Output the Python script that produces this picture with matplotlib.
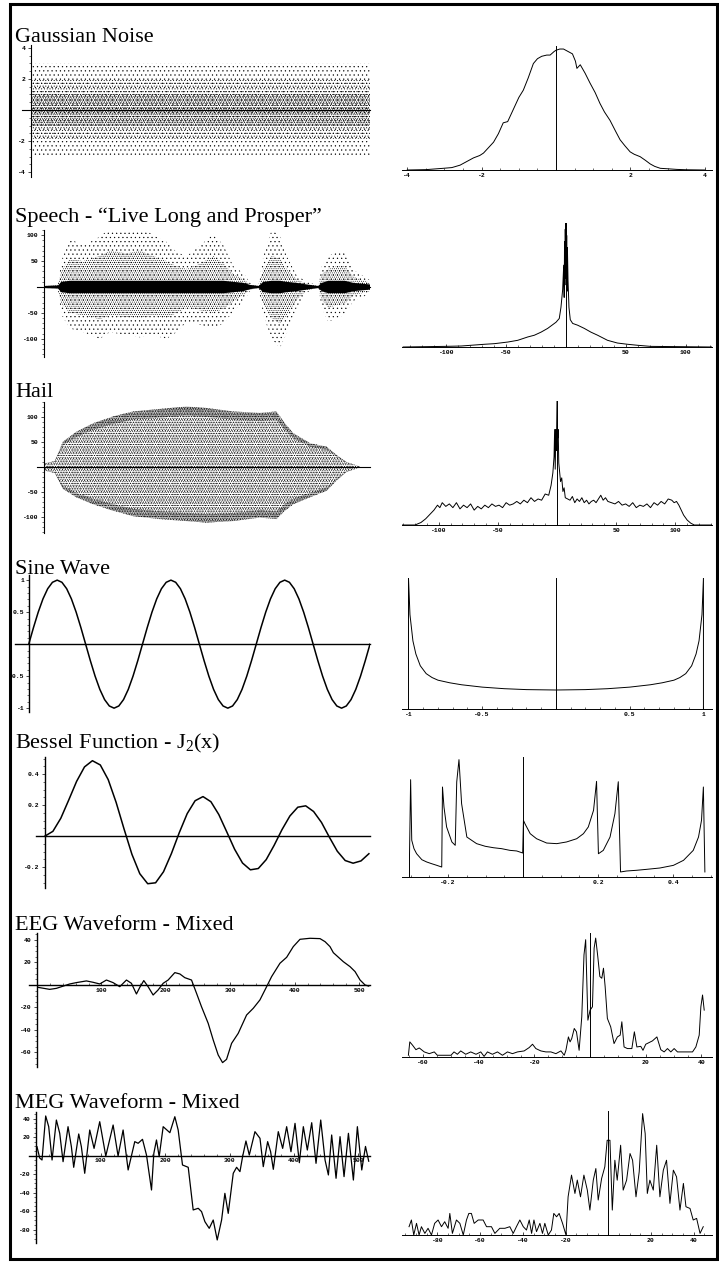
import matplotlib.pyplot as plt
from matplotlib.patches import Rectangle
from matplotlib.ticker import MultipleLocator

# ---------------- data ----------------
titles = ["Gaussian Noise", "Speech - \u201cLive Long and Prosper\u201d", "Hail",
          "Sine Wave", "Bessel Function - J$_2$(x)", "EEG Waveform - Mixed",
          "MEG Waveform - Mixed"]

# Gaussian noise: extent of the point cloud (outer, medium and dense bands)
noise_x = [0, 1000]
noise_outer_hi = [3.0, 3.0]
noise_outer_lo = [-2.9, -2.9]
noise_mid_hi = [2.0, 2.0]
noise_mid_lo = [-1.9, -1.9]
noise_core_hi = [1.1, 1.1]
noise_core_lo = [-1.0, -1.0]

# speech: envelopes of the sample cloud
speech_x = [0, 43, 53, 79, 120, 171, 202, 253, 294, 335, 376, 407, 438, 479, 520, 551,
            581, 612, 633, 658, 673, 698, 724, 744, 775, 806, 841, 852, 872, 898, 923,
            949, 1000]
speech_hi = [3, 5, 50, 93, 80, 97, 113, 110, 117, 100, 87, 67, 60, 80, 103, 80,
             40, 27, 7, 3, 60, 110, 100, 60, 23, 10, 3, 40, 60, 67, 70, 33, 13]
speech_lo = [-3, -5, -53, -80, -87, -100, -87, -93, -97, -93, -100, -87, -67, -73, -80, -70,
             -47, -27, -7, -3, -55, -100, -117, -90, -40, -10, -3, -40, -67, -60, -53, -27, -13]
speech_dense_hi = [2, 4, 30, 55, 50, 60, 70, 65, 70, 60, 50, 40, 35, 45, 60, 45,
                   25, 15, 5, 2, 35, 60, 55, 35, 15, 6, 2, 25, 35, 40, 40, 20, 8]
speech_dense_lo = [-2, -4, -32, -50, -55, -62, -55, -58, -60, -55, -60, -50, -40, -45, -50, -42,
                   -28, -15, -5, -2, -32, -60, -70, -55, -25, -6, -2, -25, -40, -35, -32, -16, -8]
speech_core = [2, 3, 10, 12, 12, 12, 12, 12, 12, 12, 12, 12, 12, 12, 12, 12,
               10, 8, 4, 2, 10, 12, 12, 10, 8, 5, 2, 8, 12, 12, 12, 8, 5]

# hail: envelope of the sample cloud
hail_x = [0, 33, 58, 99, 150, 212, 273, 355, 437, 498, 580, 662, 713, 739, 765, 816,
          867, 898, 928, 969]
hail_hi = [7, 12, 51, 71, 88, 102, 112, 117, 122, 119, 112, 109, 112, 88, 68, 48,
           41, 24, 10, 1]
hail_lo = [-7, -12, -44, -61, -75, -88, -99, -105, -109, -112, -109, -102, -105, -88, -75, -61,
           -48, -27, -10, -1]

# sine wave, 24 samples per period, three periods
sine_period = [0.0, 0.259, 0.5, 0.707, 0.866, 0.966, 1.0, 0.966, 0.866, 0.707, 0.5, 0.259,
               0.0, -0.259, -0.5, -0.707, -0.866, -0.966, -1.0, -0.966, -0.866, -0.707, -0.5, -0.259]
sine_y = sine_period * 3 + [0.0]

# Bessel J2 sampled every 0.5
bessel_x = [i * 0.5 for i in range(42)]
bessel_y = [0.0, 0.0306, 0.1149, 0.2321, 0.3528, 0.4461, 0.4861, 0.4586, 0.3641, 0.2178,
            0.0466, -0.1173, -0.2429, -0.3074, -0.3014, -0.2303, -0.1130, 0.0223, 0.1448, 0.2279,
            0.2546, 0.2216, 0.1390, 0.0279, -0.0849, -0.1738, -0.2177, -0.2093, -0.1520, -0.0602,
            0.0416, 0.1296, 0.1862, 0.1950, 0.1584, 0.0878, -0.0075, -0.0977, -0.1578, -0.1750,
            -0.1603, -0.1138]

eeg_x = [1.6, 19.7, 30.1, 50.8, 61.1, 76.7, 87.0, 97.4, 107.8, 118.1, 128.5, 138.9, 146.6,
         154.4, 159.6, 165.8, 172.5, 180.3, 188.1, 195.9, 203.6, 214.0, 221.8, 229.5, 239.9,
         247.7, 255.4, 265.8, 273.6, 281.3, 288.1, 294.3, 302.1, 312.4, 325.4, 335.8, 346.1,
         356.5, 364.2, 377.2, 387.6, 397.9, 408.3, 423.8, 439.4, 447.2, 454.9, 460.1, 475.6,
         486.0, 493.8, 501.6, 509.3, 515.0]
eeg_y = [-2.1, -3.9, -3.0, 0.9, 2.1, 3.6, 2.4, 0.9, 4.4, 2.1, -1.5, 4.4, 1.5,
         -8.0, -2.1, 3.9, -1.5, -8.9, -4.4, 1.5, 4.4, 11.0, 9.8, 6.5, 4.4,
         -7.4, -19.3, -34.1, -48.9, -62.2, -69.0, -66.1, -51.9, -43.0, -26.7, -20.7, -13.3,
         -1.5, 7.4, 19.3, 24.6, 34.1, 40.6, 41.5, 41.2, 38.5, 34.1, 28.7, 20.7,
         16.3, 11.9, 4.4, 0.0, -1.0]

meg_x = [1.0, 5.2, 8.8, 14.5, 19.2, 24.4, 31.1, 36.3, 41.5, 49.2, 54.4, 58.0, 65.8, 69.9,
         75.1, 82.9, 89.6, 98.4, 107.8, 119.2, 126.9, 134.7, 142.5, 152.8, 158.0, 164.8,
         171.0, 178.8, 182.4, 186.5, 190.7, 196.9, 207.3, 215.0, 220.2, 226.9, 235.8, 243.5,
         251.3, 256.5, 261.7, 268.4, 274.6, 280.8, 287.6, 292.7, 297.9, 305.7, 310.9, 316.1,
         320.2, 325.4, 330.6, 339.4, 347.2, 352.3, 359.1, 363.7, 367.9, 375.6, 382.4, 388.6,
         395.3, 401.6, 408.3, 414.5, 420.7, 427.5, 434.2, 441.5, 448.2, 453.4, 458.5, 465.3,
         471.5, 477.7, 484.5, 492.2, 498.4, 505.2, 511.0, 516.0]
meg_y = [9.7, -2.5, -4.7, 43.0, 31.4, -4.7, 38.6, 24.2, -6.5, 31.4, 9.7, -12.6, 23.5, 9.7,
         -19.1, 27.8, 7.9, 36.8, -0.4, 33.2, -0.4, 27.8, -15.5, 15.2, 13.4, 17.7,
         0.7, -37.2, 2.5, 17.0, -1.1, 31.4, 24.9, 42.2, 27.8, -10.1, -12.6, -58.8,
         -57.0, -60.6, -71.5, -78.7, -69.7, -91.3, -69.7, -40.8, -62.5, -19.1, -12.6, -17.3,
         -1.1, 15.9, 0.7, 26.0, 18.8, -11.9, 15.2, 4.3, -14.8, 26.0, 7.9, 31.4,
         4.3, 35.0, -7.6, 31.4, 6.1, 35.7, -8.3, 38.6, -4.7, -20.9, 22.4, -24.5,
         20.6, -22.7, 24.2, -26.4, 31.4, -15.5, 10.0, -6.0]

# histograms (right column), heights relative to the tallest bin
noise_hist_x = [-4.0, -3.5, -3.03, -2.8, -2.58, -2.4, -2.22, -2.05, -1.95, -1.8, -1.68, -1.55,
                -1.42, -1.3, -1.15, -1.0, -0.88, -0.75, -0.61, -0.5, -0.385, -0.25, -0.16, -0.05,
                0.0, 0.1, 0.2, 0.32, 0.44, 0.52, 0.56, 0.65, 0.78, 0.91, 1.05, 1.18, 1.3, 1.45,
                1.6, 1.72, 1.85, 1.99, 2.1, 2.26, 2.4, 2.53, 2.65, 2.8, 3.0, 3.24, 3.5, 4.0]
noise_hist_y = [0.0, 0.003, 0.014, 0.02, 0.04, 0.07, 0.1, 0.12, 0.14, 0.19, 0.23, 0.3,
                0.39, 0.4, 0.5, 0.6, 0.66, 0.76, 0.88, 0.92, 0.94, 0.95, 0.95, 0.98,
                0.99, 1.0, 1.0, 0.98, 0.96, 0.9, 0.84, 0.87, 0.8, 0.72, 0.64, 0.55, 0.48, 0.41,
                0.32, 0.25, 0.2, 0.15, 0.13, 0.11, 0.08, 0.05, 0.03, 0.014, 0.01, 0.005, 0.002, 0.0]

speech_hist_x = [-136, -101.4, -87.5, -76.4, -68, -59.7, -48.6, -40.3, -31.9, -26.4, -20.8,
                 -15.3, -11.1, -8.3, -5.6, -4.2, -2.8, -1.9, -1.5, -1.2, -0.9, -0.6, -0.3, 0.0,
                 0.3, 0.6, 0.9, 1.2, 1.7, 2.5, 3.6, 5.6, 9.7, 15.3, 20.8, 26.4, 34.7, 43, 51.4,
                 59.7, 70.8, 93, 122]
speech_hist_y = [0.0, 0.005, 0.008, 0.016, 0.022, 0.027, 0.04, 0.054, 0.081, 0.095, 0.12,
                 0.15, 0.18, 0.2, 0.23, 0.32, 0.46, 0.66, 0.4, 0.85, 0.5, 0.95, 0.6, 1.0,
                 0.55, 0.9, 0.45, 0.8, 0.54, 0.32, 0.22, 0.19, 0.176, 0.15, 0.12, 0.095, 0.054,
                 0.032, 0.022, 0.014, 0.005, 0.003, 0.0]

hail_hist_x = [-131, -120, -115, -111, -107, -104, -101, -99, -97, -94, -91, -88, -85, -82, -79,
               -76, -73, -70, -67, -64, -61, -58, -55, -52, -49, -46, -43, -40, -37, -34, -31,
               -28, -25, -22, -19, -16, -13, -10, -7, -5, -3.5, -2.5, -2, -1.5, -1, -0.5, 0,
               0.5, 1, 1.5, 2, 3, 4, 5, 6, 7, 9, 11, 13, 15, 17, 19, 21, 23, 25, 27, 29, 31,
               33, 35, 37, 39, 41, 43, 46, 49, 52, 55, 58, 61, 64, 67, 70, 73, 76, 79, 82, 85,
               88, 91, 94, 97, 99, 101, 103, 105, 107, 110, 113, 116, 131]
hail_hist_y = [0.0, 0.0, 0.02, 0.05, 0.09, 0.12, 0.16, 0.14, 0.18, 0.15, 0.17, 0.14, 0.18, 0.13,
               0.16, 0.14, 0.17, 0.12, 0.15, 0.13, 0.16, 0.14, 0.17, 0.15, 0.16, 0.14, 0.18,
               0.16, 0.17, 0.19, 0.17, 0.2, 0.18, 0.22, 0.19, 0.21, 0.2, 0.25, 0.24, 0.32, 0.42,
               0.55, 0.77, 0.45, 0.77, 0.6, 1.0, 0.7, 0.77, 0.5, 0.45, 0.35, 0.38, 0.27, 0.3,
               0.22, 0.21, 0.2, 0.23, 0.18, 0.21, 0.19, 0.22, 0.18, 0.2, 0.17, 0.19, 0.2, 0.18,
               0.21, 0.24, 0.2, 0.22, 0.19, 0.18, 0.17, 0.19, 0.16, 0.17, 0.15, 0.18, 0.14,
               0.16, 0.15, 0.17, 0.14, 0.18, 0.16, 0.19, 0.17, 0.21, 0.2, 0.18, 0.19, 0.16,
               0.12, 0.08, 0.04, 0.015, 0.0, 0.0]

sine_hist_x = [-1.0, -1.0, -0.99, -0.97, -0.95, -0.92, -0.88, -0.84, -0.8, -0.72, -0.64, -0.5,
               -0.35, -0.2, 0.0, 0.2, 0.35, 0.5, 0.64, 0.72, 0.8, 0.84, 0.88, 0.92, 0.95, 0.97,
               0.99, 1.0, 1.0]
sine_hist_y = [0.0, 1.0, 0.72, 0.52, 0.42, 0.33, 0.27, 0.24, 0.22, 0.2, 0.185, 0.167,
               0.155, 0.148, 0.145, 0.148, 0.155, 0.167, 0.185, 0.2, 0.22, 0.24, 0.27, 0.33,
               0.42, 0.52, 0.72, 1.0, 0.0]

bessel_hist_x = [-0.303, -0.303, -0.300, -0.297, -0.291, -0.284, -0.270, -0.257, -0.244, -0.230,
                 -0.217, -0.215, -0.211, -0.204, -0.190, -0.181, -0.177, -0.171, -0.164, -0.150,
                 -0.124, -0.101, -0.079, -0.057, -0.035, -0.017, -0.001, 0.001, 0.005, 0.019,
                 0.036, 0.063, 0.090, 0.116, 0.143, 0.161, 0.174, 0.188, 0.196, 0.201, 0.214,
                 0.232, 0.245, 0.254, 0.260, 0.276, 0.303, 0.330, 0.365, 0.401, 0.428, 0.454,
                 0.468, 0.476, 0.481, 0.485]
bessel_hist_y = [0.0, 0.181, 0.811, 0.306, 0.236, 0.194, 0.144, 0.125, 0.111, 0.097,
                 0.083, 0.75, 0.583, 0.417, 0.292, 0.264, 0.792, 0.978, 0.611, 0.333,
                 0.278, 0.256, 0.244, 0.236, 0.222, 0.217, 0.2, 0.472, 0.444, 0.361,
                 0.319, 0.283, 0.278, 0.292, 0.319, 0.361, 0.417, 0.556, 0.797, 0.194, 0.222,
                 0.333, 0.528, 0.794, 0.042, 0.05, 0.056, 0.064, 0.075, 0.097, 0.139, 0.222,
                 0.333, 0.472, 0.75, 0.042]

eeg_hist_x = [-65.3, -64.8, -63.8, -62.6, -61.4, -59.6, -57.8, -56.0, -54.9, -53.0, -50.0, -48.9,
              -47.7, -46.5, -44.7, -42.9, -41.0, -39.3, -38.1, -36.9, -35.1, -33.3, -31.5, -29.7,
              -27.9, -26.1, -23.7, -21.9, -20.7, -19.5, -17.7, -15.9, -14.1, -12.3, -10.5, -9.3,
              -8.7, -7.8, -7.2, -6.6, -5.7, -4.9, -3.95, -3.0, -2.2, -1.6, -0.8, 0.0, 0.84, 1.44,
              2.0, 2.75, 3.5, 4.2, 4.8, 5.4, 6.2, 7.4, 8.6, 9.8, 10.8, 11.4, 12.2, 13.4, 15.0,
              15.9, 16.8, 18.2, 19.0, 20.0, 22.4, 24.0, 25.4, 26.6, 27.8, 29.0, 30.2, 31.4, 36.8,
              38.0, 39.2, 39.8, 40.4, 41.0]
eeg_hist_y = [0.014, 0.122, 0.095, 0.059, 0.073, 0.041, 0.027, 0.041, 0.014, 0.014, 0.014, 0.041,
              0.022, 0.049, 0.022, 0.041, 0.022, 0.041, 0.005, 0.041, 0.022, 0.041, 0.014, 0.041,
              0.027, 0.041, 0.049, 0.076, 0.103, 0.068, 0.049, 0.041, 0.041, 0.027, 0.049, 0.014,
              0.054, 0.162, 0.122, 0.149, 0.230, 0.203, 0.054, 0.324, 0.824, 0.946, 0.297, 0.378,
              0.405, 0.878, 0.959, 0.811, 0.649, 0.635, 0.716, 0.568, 0.311, 0.243, 0.108, 0.162,
              0.176, 0.284, 0.081, 0.068, 0.068, 0.203, 0.081, 0.086, 0.054, 0.103, 0.130, 0.162,
              0.059, 0.041, 0.068, 0.041, 0.068, 0.041, 0.041, 0.081, 0.176, 0.405, 0.500, 0.378]

meg_hist_x = [-93.3, -92.2, -91.1, -89.8, -88.6, -87.5, -85.9, -84.4, -82.8, -81.3, -79.7, -78.1,
              -76.6, -75.0, -74.2, -73.0, -71.1, -69.5, -67.9, -66.4, -65.3, -64.1, -62.8, -60.9,
              -58.6, -57.0, -54.7, -53.1, -50.8, -48.4, -46.1, -44.5, -43.0, -41.4, -39.8, -38.3,
              -37.0, -35.9, -34.8, -33.6, -32.0, -30.8, -29.7, -28.1, -26.6, -25.5, -24.2, -23.0,
              -21.4, -19.8, -18.8, -17.2, -15.6, -14.5, -13.0, -11.4, -9.8, -8.6, -7.0, -5.8,
              -4.7, -3.1, -1.6, -0.5, 0.8, 1.9, 3.1, 4.2, 5.8, 7.0, 8.6, 10.2, 11.4, 13.0, 14.5,
              16.1, 17.3, 18.3, 19.5, 21.1, 22.7, 24.2, 25.8, 27.3, 28.9, 30.5, 32.0, 33.6, 35.2,
              36.4, 38.3, 39.8, 41.4, 43.0, 44.5]
meg_hist_y = [0.067, 0.121, 0.0, 0.094, 0.0, 0.067, 0.013, 0.054, 0.0, 0.094, 0.121, 0.067,
              0.107, 0.054, 0.174, 0.013, 0.121, 0.094, 0.0, 0.121, 0.174, 0.174, 0.094, 0.121,
              0.121, 0.067, 0.067, 0.013, 0.054, 0.054, 0.067, 0.013, 0.067, 0.121, 0.067, 0.040,
              0.121, 0.013, 0.121, 0.027, 0.094, 0.013, 0.094, 0.0, 0.040, 0.174, 0.147, 0.174,
              0.094, 0.0, 0.308, 0.483, 0.335, 0.443, 0.308, 0.483, 0.362, 0.201, 0.443, 0.536,
              0.282, 0.456, 0.550, 0.764, 0.764, 0.201, 0.603, 0.442, 0.724, 0.362, 0.442, 0.657,
              0.603, 0.308, 0.509, 0.979, 0.818, 0.335, 0.442, 0.362, 0.724, 0.308, 0.523, 0.603,
              0.255, 0.523, 0.469, 0.201, 0.416, 0.228, 0.214, 0.121, 0.134, 0.013, 0.067]

# ---------------- figure ----------------
W, H = 719, 1263
plt.rcParams['hatch.color'] = 'black'
plt.rcParams['hatch.linewidth'] = 0.35
plt.rcParams['mathtext.fontset'] = 'custom'
plt.rcParams['mathtext.rm'] = 'Liberation Serif'
plt.rcParams['mathtext.it'] = 'Liberation Serif:italic'

fig = plt.figure(figsize=(W / 100, H / 100), dpi=100)
tick_font = {'family': 'Liberation Mono', 'weight': 'bold', 'size': 4.6}


def box(left, top, right, bottom):
    return fig.add_axes([left / W, 1 - bottom / H, (right - left) / W, (bottom - top) / H])


def style(ax, xlim, ylim, xticks=(), yticks=(), xminor=None, yminor=None, axis_lw=0.8):
    ax.set_xlim(xlim)
    ax.set_ylim(ylim)
    ax.patch.set_alpha(0)
    for s in ('top', 'right'):
        ax.spines[s].set_visible(False)
    ax.spines['left'].set_position(('data', 0))
    ax.spines['bottom'].set_position(('data', 0))
    ax.spines['left'].set_linewidth(axis_lw)
    ax.spines['bottom'].set_linewidth(axis_lw)
    ax.set_xticks(list(xticks))
    ax.set_xticklabels(['%g' % v for v in xticks], fontdict=tick_font)
    ax.set_yticks(list(yticks))
    ax.set_yticklabels(['%g' % v for v in yticks], fontdict=tick_font)
    if xminor:
        ax.xaxis.set_minor_locator(MultipleLocator(xminor))
    if yminor:
        ax.yaxis.set_minor_locator(MultipleLocator(yminor))
    ax.tick_params(axis='x', which='major', direction='in', length=2.5, width=0.5, pad=2)
    ax.tick_params(axis='x', which='minor', direction='in', length=1.2, width=0.4)
    ax.tick_params(axis='y', which='major', direction='out', length=2.5, width=0.5, pad=1.5)
    ax.tick_params(axis='y', which='minor', direction='out', length=1.2, width=0.4)


def band(ax, x, lo, hi, hatch):
    ax.fill_between(x, lo, hi, facecolor='none', edgecolor='black', hatch=hatch, linewidth=0)


# titles
title_base = [42, 222, 397, 574, 748, 930, 1108]
for t, yb in zip(titles, title_base):
    fig.text(15 / W, 1 - yb / H, t, ha='left', va='baseline',
             family='Liberation Serif', size=16)

# ---- left column ----
ax = box(22, 45, 370, 177)
style(ax, (-26.5, 1000), (-4.32, 4.19), yticks=[-4, -2, 2, 4], yminor=0.5)
band(ax, noise_x, noise_outer_lo, noise_outer_hi, '....')
band(ax, noise_x, noise_mid_lo, noise_mid_hi, '......')
band(ax, noise_x, noise_core_lo, noise_core_hi, '.........')

ax = box(37, 230, 370, 357)
style(ax, (-21.5, 1000), (-135, 110), yticks=[-100, -50, 50, 100], yminor=10)
band(ax, speech_x, speech_lo, speech_hi, '....')
band(ax, speech_x, speech_dense_lo, speech_dense_hi, '........')
ax.fill_between(speech_x, [-c for c in speech_core], speech_core, facecolor='black', linewidth=0)

ax = box(37, 402, 370, 533)
style(ax, (-21.5, 1000), (-133, 131), yticks=[-100, -50, 50, 100], yminor=10)
band(ax, hail_x, hail_lo, hail_hi, '......')
band(ax, hail_x, hail_lo, hail_hi, '.........')
band(ax, hail_x, hail_lo, [v * 0.85 for v in hail_lo], '..............')
band(ax, hail_x, [v * 0.85 for v in hail_hi], hail_hi, '..............')

ax = box(15, 575, 370, 712)
style(ax, (-2.9, 72), (-1.06, 1.08), yticks=[-1, -0.5, 0.5, 1], yminor=0.1, axis_lw=1.0)
ax.tick_params(axis='y', which='major', length=2, pad=1)
ax.plot(range(len(sine_y)), sine_y, color='black', lw=1.1)

ax = box(36, 757, 370, 888)
style(ax, (-0.57, 20.57), (-0.335, 0.51), yticks=[-0.2, 0.2, 0.4], yminor=0.05, axis_lw=1.0)
ax.plot(bessel_x, bessel_y, color='black', lw=1.1)

ax = box(29, 933, 370, 1067)
style(ax, (-12.4, 517), (-72.9, 46.2), xticks=[100, 200, 300, 400, 500],
      yticks=[-60, -40, -20, 20, 40], xminor=20, yminor=5, axis_lw=1.0)
ax.plot(eeg_x, eeg_y, color='black', lw=0.9)

ax = box(29, 1112, 370, 1243)
style(ax, (-11.4, 518), (-94.6, 47.3), xticks=[100, 200, 300, 400, 500],
      yticks=[-80, -60, -40, -20, 20, 40], xminor=20, yminor=5, axis_lw=1.0)
ax.plot(meg_x, meg_y, color='black', lw=0.9)

# ---- right column (histograms) ----
right = [
    (46, 170, (-4.14, 4.19), 1.025, [-4, -2, 2, 4], 0.5, noise_hist_x, noise_hist_y),
    (223, 347, (-137, 122), 1.0, [-100, -50, 50, 100], 10, speech_hist_x, speech_hist_y),
    (401, 525, (-131, 131), 1.0, [-100, -50, 50, 100], 10, hail_hist_x, hail_hist_y),
    (578, 709, (-1.044, 1.058), 1.0, [-1, -0.5, 0.5, 1], 0.1, sine_hist_x, sine_hist_y),
    (757, 877, (-0.323, 0.504), 1.0, [-0.2, 0.2, 0.4], 0.05, bessel_hist_x, bessel_hist_y),
    (933, 1057, (-67.6, 43.8), 1.0, [-60, -40, -20, 20, 40], 5, eeg_hist_x, eeg_hist_y),
    (1111, 1235, (-96.6, 48.6), 1.0, [-80, -60, -40, -20, 20, 40], 5, meg_hist_x, meg_hist_y),
]
for top, base, xl, ytop, xt, xm, hx, hy in right:
    ax = box(402, top, 712, base)
    style(ax, xl, (0, ytop), xticks=xt, xminor=xm, axis_lw=0.7)
    ax.plot(hx, hy, color='black', lw=0.7)

# page frame
fig.patches.append(Rectangle((10 / W, 4 / H), 707 / W, 1255 / H, transform=fig.transFigure,
                             fill=False, edgecolor='black', lw=2.2))

fig.savefig('out.png', dpi=100)
